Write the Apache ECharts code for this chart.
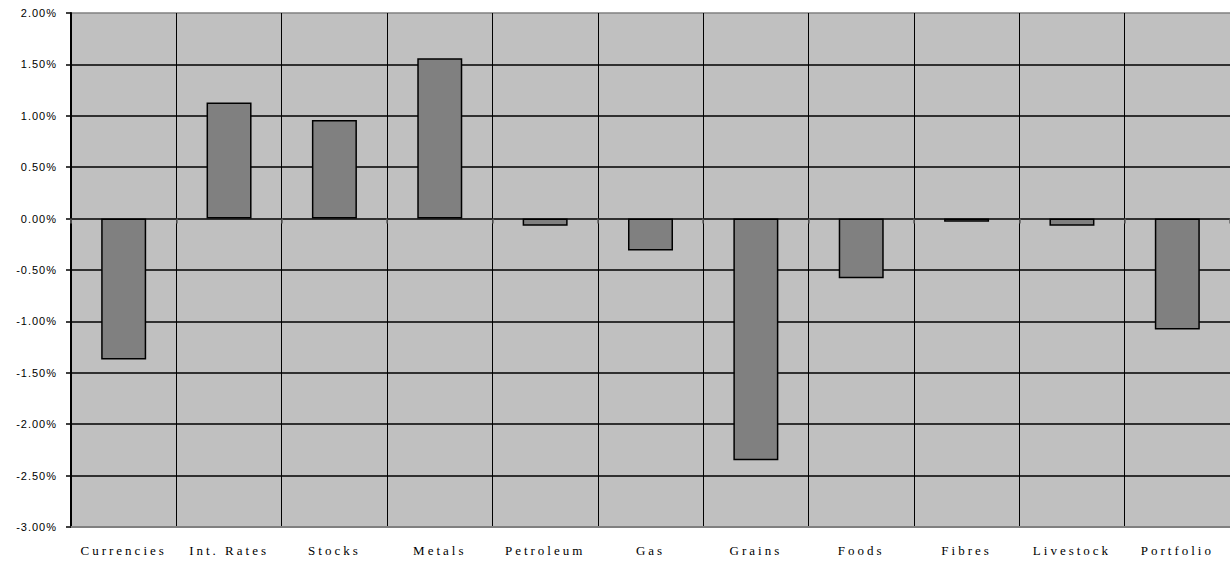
<!DOCTYPE html>
<html>
<head>
<meta charset="utf-8">
<script src="https://cdn.jsdelivr.net/npm/echarts@6/dist/echarts.min.js"></script>
<style>
html, body { margin: 0; padding: 0; background: #fff; }
#chart { width: 1230px; height: 562px; }
#chart text[style*="Serif"] { letter-spacing: 3px; }
#chart text[style*="Sans"] { letter-spacing: 1px; }
</style>
</head>
<body>
<div id="chart"></div>
<script>
const categories = ['Currencies', 'Int. Rates', 'Stocks', 'Metals', 'Petroleum', 'Gas', 'Grains', 'Foods', 'Fibres', 'Livestock', 'Portfolio'];
const returns = [-1.37, 1.13, 0.96, 1.56, -0.07, -0.31, -2.35, -0.58, -0.03, -0.07, -1.08];
const yMin = -3.0, yMax = 2.0, yStep = 0.5;

const gridColors = [];
for (let i = 0; i <= (yMax - yMin) / yStep; i++) gridColors.push('#000');
gridColors[0] = '#808080';
gridColors[gridColors.length - 1] = '#808080';

const chart = echarts.init(document.getElementById('chart'), null, { renderer: 'svg' });
chart.setOption({
  animation: false,
  grid: { left: 71, top: 13, width: 1160, height: 514, show: true, backgroundColor: '#C0C0C0', borderWidth: 0 },
  xAxis: [
    {
      type: 'category', data: categories, position: 'bottom',
      axisLine: { show: false, onZero: true },
      axisTick: { show: true, length: 5, lineStyle: { color: '#606060', width: 1.5 } },
      axisLabel: { show: false },
      splitLine: { show: false }
    },
    {
      type: 'category', data: categories, position: 'bottom',
      axisLine: { show: true, onZero: false, lineStyle: { color: '#808080', width: 2 } },
      axisTick: { show: false },
      axisLabel: { show: true, margin: 17, color: '#000', fontFamily: 'Liberation Serif', fontSize: 13 },
      splitLine: { show: true, lineStyle: { color: '#000', width: 1 } }
    }
  ],
  yAxis: {
    type: 'value', min: yMin, max: yMax, interval: yStep,
    axisLine: { show: true, lineStyle: { color: '#000', width: 2 } },
    axisTick: { show: true, length: 5, lineStyle: { color: '#000', width: 1.5 } },
    axisLabel: { margin: 14, color: '#000', fontFamily: 'Liberation Sans', fontSize: 11,
      formatter: v => v.toFixed(2) + '%' },
    splitLine: { show: true, lineStyle: { color: gridColors, width: 1.5 } }
  },
  series: [{
    type: 'bar', xAxisIndex: 0, data: returns, barWidth: 45,
    itemStyle: { color: '#808080', borderColor: '#000', borderWidth: 1.5 }
  }]
});
</script>
</body>
</html>
